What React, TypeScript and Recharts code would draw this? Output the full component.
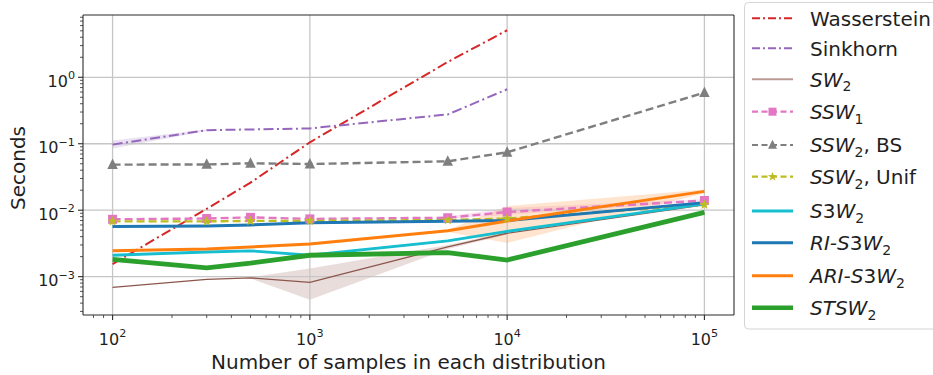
import React from 'react';
import { ComposedChart, Line, Area, XAxis, YAxis, ReferenceLine } from 'recharts';

// ---------------- data ----------------
const sampleSizes = [100, 300, 500, 1000, 5000, 10000, 100000];

const wasserstein = [0.00155, 0.0105, 0.026, 0.105, 1.7, 5.1, null];
const sinkhorn = [0.097, 0.16, 0.164, 0.17, 0.276, 0.66, null];
const sw2 = [0.00069, 0.00091, 0.00096, 0.00082, 0.0028, 0.0045, 0.012];
const ssw1 = [0.0073, 0.0075, 0.0078, 0.0074, 0.0077, 0.0094, 0.014];
const ssw2BS = [0.0485, 0.0488, 0.0508, 0.0495, 0.0544, 0.0744, 0.587];
const ssw2Unif = [0.0068, 0.0068, 0.0069, 0.0069, 0.0071, 0.0075, 0.0121];
const s3w2 = [0.0021, 0.00235, 0.00245, 0.0021, 0.00345, 0.0048, 0.0125];
const riS3w2 = [0.0057, 0.0058, 0.006, 0.0065, 0.0068, 0.007, 0.013];
const ariS3w2 = [0.00246, 0.0026, 0.0028, 0.0031, 0.0049, 0.0069, 0.0192];
const stsw2 = [0.00182, 0.00136, 0.0016, 0.0021, 0.0023, 0.00178, 0.0093];

// shaded spread bands (low / high)
const sinkhornLo = [0.085, 0.156, null, null, null, null, null];
const sinkhornHi = [0.112, 0.164, null, null, null, null, null];
const sw2Lo = [null, null, 0.00094, 0.00045, 0.0026, 0.0043, null];
const sw2Hi = [null, null, 0.00098, 0.00133, 0.003, 0.0047, null];
const ssw1Lo = [null, null, null, null, 0.0074, 0.0085, 0.0135];
const ssw1Hi = [null, null, null, null, 0.0081, 0.0108, 0.0148];
const ariLo = [null, null, null, null, 0.0047, 0.0032, 0.018];
const ariHi = [null, null, null, null, 0.0051, 0.0115, 0.0205];

// ticks
const xMajorTicks = [100, 1000, 10000, 100000];
const xMinorTicks = [
  80, 90, 200, 300, 400, 500, 600, 700, 800, 900,
  2000, 3000, 4000, 5000, 6000, 7000, 8000, 9000,
  20000, 30000, 40000, 50000, 60000, 70000, 80000, 90000,
];
const yMajorTicks = [0.001, 0.01, 0.1, 1];
const yMinorTicks = [
  0.0003, 0.0004, 0.0005, 0.0006, 0.0007, 0.0008, 0.0009,
  0.002, 0.003, 0.004, 0.005, 0.006, 0.007, 0.008, 0.009,
  0.02, 0.03, 0.04, 0.05, 0.06, 0.07, 0.08, 0.09,
  0.2, 0.3, 0.4, 0.5, 0.6, 0.7, 0.8, 0.9,
  2, 3, 4, 5, 6, 7, 8,
];
const xDomain = [70.8, 141254];
const yDomain = [0.000265, 8.65];

const band = (lo: (number | null)[], hi: (number | null)[], i: number) =>
  lo[i] != null && hi[i] != null ? [lo[i], hi[i]] : undefined;

const rows = sampleSizes.map((x, i) => ({
  x,
  wasserstein: wasserstein[i],
  sinkhorn: sinkhorn[i],
  sw2: sw2[i],
  ssw1: ssw1[i],
  ssw2BS: ssw2BS[i],
  ssw2Unif: ssw2Unif[i],
  s3w2: s3w2[i],
  riS3w2: riS3w2[i],
  ariS3w2: ariS3w2[i],
  stsw2: stsw2[i],
  sinkhornBand: band(sinkhornLo, sinkhornHi, i),
  sw2Band: band(sw2Lo, sw2Hi, i),
  ssw1Band: band(ssw1Lo, ssw1Hi, i),
  ariBand: band(ariLo, ariHi, i),
}));

// ---------------- styles ----------------
const FONT = 'DejaVu Sans';
const TEXT = '#1f1f1f';
const AXIS = '#2b2b2b';
const GRID = '#c6c6c6';
const DASHDOT = '10 3.5 2 3.5';
const DASHED = '8 4';
const LABEL_SIZE = 20;
const TICK_SIZE = 16;

const C = {
  red: '#d62728', purple: '#9467bd', brown: '#8c564b', pink: '#e377c2', gray: '#7f7f7f',
  olive: '#bcbd22', cyan: '#17becf', blue: '#1f77b4', orange: '#ff7f0e', green: '#2ca02c',
};

// ---------------- markers ----------------
const square = (cx: number, cy: number, color: string, s = 9, key?: any) => (
  <rect key={key} x={cx - s / 2} y={cy - s / 2} width={s} height={s} fill={color} />
);
const triangle = (cx: number, cy: number, color: string, s = 10, key?: any) => (
  <polygon key={key} points={`${cx},${cy - s * 0.58} ${cx - s / 2},${cy + s * 0.42} ${cx + s / 2},${cy + s * 0.42}`} fill={color} />
);
const star = (cx: number, cy: number, color: string, r = 5.2, key?: any) => {
  const pts: string[] = [];
  for (let k = 0; k < 10; k++) {
    const rr = k % 2 === 0 ? r : r * 0.42;
    const a = -Math.PI / 2 + (k * Math.PI) / 5;
    pts.push(`${cx + rr * Math.cos(a)},${cy + rr * Math.sin(a)}`);
  }
  return <polygon key={key} points={pts.join(' ')} fill={color} />;
};

const makeDot = (kind: 'square' | 'triangle' | 'star', color: string) => (p: any) => {
  const key = `d-${kind}-${p.index}`;
  if (p.cx == null || p.cy == null || p.value == null) return <g key={key} />;
  if (kind === 'square') return square(p.cx, p.cy, color, 9, key);
  if (kind === 'triangle') return triangle(p.cx, p.cy, color, 10.5, key);
  return star(p.cx, p.cy, color, 5.4, key);
};

// ---------------- ticks ----------------
const supText = (exp: number) => (exp < 0 ? `\u2212${-exp}` : `${exp}`);

const XTick = (props: any) => {
  const { x, y, payload } = props;
  const v = payload.value;
  const major = xMajorTicks.includes(v);
  const exp = Math.round(Math.log10(v));
  return (
    <g>
      <line x1={x} x2={x} y1={y} y2={y + (major ? 5 : 3)} stroke={AXIS} strokeWidth={major ? 1.1 : 0.8} />
      {major && (
        <text x={x} y={y + 29.5} textAnchor="middle" fontSize={TICK_SIZE} fontFamily={FONT} fill={TEXT}>
          10<tspan dy={-7.5} fontSize={11.2}>{supText(exp)}</tspan>
        </text>
      )}
    </g>
  );
};

const YTick = (props: any) => {
  const { x, y, payload } = props;
  const v = payload.value;
  const major = yMajorTicks.includes(v);
  const exp = Math.round(Math.log10(v));
  return (
    <g>
      <line x1={x - (major ? 5 : 3)} x2={x} y1={y} y2={y} stroke={AXIS} strokeWidth={major ? 1.1 : 0.8} />
      {major && (
        <text x={x - 8} y={y + 9.5} textAnchor="end" fontSize={TICK_SIZE} fontFamily={FONT} fill={TEXT}>
          10<tspan dy={-7.5} fontSize={11.2}>{supText(exp)}</tspan>
        </text>
      )}
    </g>
  );
};

// ---------------- legend ----------------
type Part = { t: string; it?: boolean; sub?: boolean };
type Entry = {
  parts: Part[]; color: string; width: number; dash?: string; marker?: 'square' | 'triangle' | 'star'; opacity?: number;
};
const legendEntries: Entry[] = [
  { parts: [{ t: 'Wasserstein' }], color: C.red, width: 2, dash: '8 3 2 3' },
  { parts: [{ t: 'Sinkhorn' }], color: C.purple, width: 2, dash: '8 3 2 3' },
  { parts: [{ t: 'SW', it: true }, { t: '2', sub: true }], color: C.brown, width: 2, opacity: 0.6 },
  { parts: [{ t: 'SSW', it: true }, { t: '1', sub: true }], color: C.pink, width: 2.2, dash: '6 3.5', marker: 'square' },
  { parts: [{ t: 'SSW', it: true }, { t: '2', sub: true }, { t: ', BS' }], color: C.gray, width: 2.2, dash: '6 3.5', marker: 'triangle' },
  { parts: [{ t: 'SSW', it: true }, { t: '2', sub: true }, { t: ', Unif' }], color: C.olive, width: 2.2, dash: '6 3.5', marker: 'star' },
  { parts: [{ t: 'S', it: true }, { t: '3' }, { t: 'W', it: true }, { t: '2', sub: true }], color: C.cyan, width: 3 },
  { parts: [{ t: 'RI-S', it: true }, { t: '3' }, { t: 'W', it: true }, { t: '2', sub: true }], color: C.blue, width: 3 },
  { parts: [{ t: 'ARI-S', it: true }, { t: '3' }, { t: 'W', it: true }, { t: '2', sub: true }], color: C.orange, width: 3 },
  { parts: [{ t: 'STSW', it: true }, { t: '2', sub: true }], color: C.green, width: 4.5 },
];
const legendRowY = [18.3, 48.3, 79.3, 111.7, 145, 176.7, 211, 242.7, 275.7, 307.7];

const LegendBox = () => {
  const hx1 = 752, hx2 = 793, tx = 810;
  return (
    <svg width={933} height={375} style={{ position: 'absolute', left: 0, top: 0, pointerEvents: 'none' }}>
      <rect x={744.5} y={2.5} width={200} height={326.5} rx={4} fill="#ffffff" fillOpacity={0.8} stroke="#d4d4d4" strokeWidth={1} />
      {legendEntries.map((e, i) => {
        const cy = legendRowY[i];
        const mx = (hx1 + hx2) / 2;
        const spans: any[] = [];
        let inSub = false;
        e.parts.forEach((p, k) => {
          let dy = 0;
          if (p.sub && !inSub) { dy = 4.7; inSub = true; }
          else if (!p.sub && inSub) { dy = -4.7; inSub = false; }
          spans.push(
            <tspan key={k} dy={dy} fontStyle={p.it ? 'italic' : 'normal'} fontSize={p.sub ? 14 : LABEL_SIZE}>{p.t}</tspan>
          );
        });
        return (
          <g key={i}>
            <line x1={hx1} x2={hx2} y1={cy} y2={cy} stroke={e.color} strokeWidth={e.width} strokeDasharray={e.dash} strokeOpacity={e.opacity ?? 1} />
            {e.marker === 'square' && square(mx, cy, e.color, 8)}
            {e.marker === 'triangle' && triangle(mx, cy, e.color, 9)}
            {e.marker === 'star' && star(mx, cy, e.color, 4.8)}
            <text x={tx} y={cy + 7.4} fontFamily={FONT} fill={TEXT} fontSize={LABEL_SIZE}>{spans}</text>
          </g>
        );
      })}
    </svg>
  );
};

// ---------------- chart ----------------
export default function App() {
  return (
    <div style={{ position: 'absolute', left: 0, top: 0, width: 933, height: 375, overflow: 'hidden', background: '#fff' }}>
      <ComposedChart
        width={933}
        height={375}
        data={rows}
        margin={{ top: 15, right: 199, bottom: 0, left: 8 }}
      >
        <XAxis
          dataKey="x"
          type="number"
          scale="log"
          domain={xDomain}
          allowDataOverflow
          ticks={[...xMajorTicks, ...xMinorTicks]}
          interval={0}
          tick={<XTick />}
          tickLine={false}
          tickSize={0}
          tickMargin={0}
          height={60}
          axisLine={{ stroke: AXIS, strokeWidth: 1.1 }}
          label={() => (
            <text x={408.5} y={369} textAnchor="middle" fontSize={LABEL_SIZE} fontFamily={FONT} fill={TEXT}>
              Number of samples in each distribution
            </text>
          )}
        />
        <YAxis
          type="number"
          scale="log"
          domain={yDomain}
          allowDataOverflow
          ticks={[...yMajorTicks, ...yMinorTicks]}
          interval={0}
          tick={<YTick />}
          tickLine={false}
          tickSize={0}
          tickMargin={0}
          width={75}
          axisLine={{ stroke: AXIS, strokeWidth: 1.1 }}
          label={() => (
            <text x={25} y={168} transform="rotate(-90 25 168)" textAnchor="middle" fontSize={LABEL_SIZE} fontFamily={FONT} fill={TEXT}>
              Seconds
            </text>
          )}
        />

        {/* spread bands */}
        <Area dataKey="sinkhornBand" type="linear" stroke="none" fill={C.purple} fillOpacity={0.2} isAnimationActive={false} dot={false} activeDot={false} />
        <Area dataKey="sw2Band" type="linear" stroke="none" fill={C.brown} fillOpacity={0.2} isAnimationActive={false} dot={false} activeDot={false} />
        <Area dataKey="ssw1Band" type="linear" stroke="none" fill={C.pink} fillOpacity={0.2} isAnimationActive={false} dot={false} activeDot={false} />
        <Area dataKey="ariBand" type="linear" stroke="none" fill={C.orange} fillOpacity={0.2} isAnimationActive={false} dot={false} activeDot={false} />

        {/* grid at major ticks */}
        {xMajorTicks.map((v) => (
          <ReferenceLine key={`gx${v}`} x={v} stroke={GRID} strokeWidth={1.3} />
        ))}
        {yMajorTicks.map((v) => (
          <ReferenceLine key={`gy${v}`} y={v} stroke={GRID} strokeWidth={1.3} />
        ))}
        {/* top and right frame */}
        <ReferenceLine x={xDomain[1]} stroke={AXIS} strokeWidth={1.1} />
        <ReferenceLine y={yDomain[1]} stroke={AXIS} strokeWidth={1.1} />

        <Line dataKey="wasserstein" type="linear" stroke={C.red} strokeWidth={2} strokeDasharray={DASHDOT} dot={false} activeDot={false} isAnimationActive={false} />
        <Line dataKey="sinkhorn" type="linear" stroke={C.purple} strokeWidth={2} strokeDasharray={DASHDOT} dot={false} activeDot={false} isAnimationActive={false} />
        <Line dataKey="sw2" type="linear" stroke={C.brown} strokeWidth={1.3} dot={false} activeDot={false} isAnimationActive={false} />
        <Line dataKey="ssw1" type="linear" stroke={C.pink} strokeWidth={2.4} strokeDasharray={DASHED} dot={makeDot('square', C.pink)} activeDot={false} isAnimationActive={false} />
        <Line dataKey="ssw2BS" type="linear" stroke={C.gray} strokeWidth={2.4} strokeDasharray={DASHED} dot={makeDot('triangle', C.gray)} activeDot={false} isAnimationActive={false} />
        <Line dataKey="ssw2Unif" type="linear" stroke={C.olive} strokeWidth={2.4} strokeDasharray={DASHED} dot={makeDot('star', C.olive)} activeDot={false} isAnimationActive={false} />
        <Line dataKey="s3w2" type="linear" stroke={C.cyan} strokeWidth={2.8} dot={false} activeDot={false} isAnimationActive={false} />
        <Line dataKey="riS3w2" type="linear" stroke={C.blue} strokeWidth={3} dot={false} activeDot={false} isAnimationActive={false} />
        <Line dataKey="ariS3w2" type="linear" stroke={C.orange} strokeWidth={3} dot={false} activeDot={false} isAnimationActive={false} />
        <Line dataKey="stsw2" type="linear" stroke={C.green} strokeWidth={4.8} dot={false} activeDot={false} isAnimationActive={false} />
      </ComposedChart>
      <LegendBox />
    </div>
  );
}
